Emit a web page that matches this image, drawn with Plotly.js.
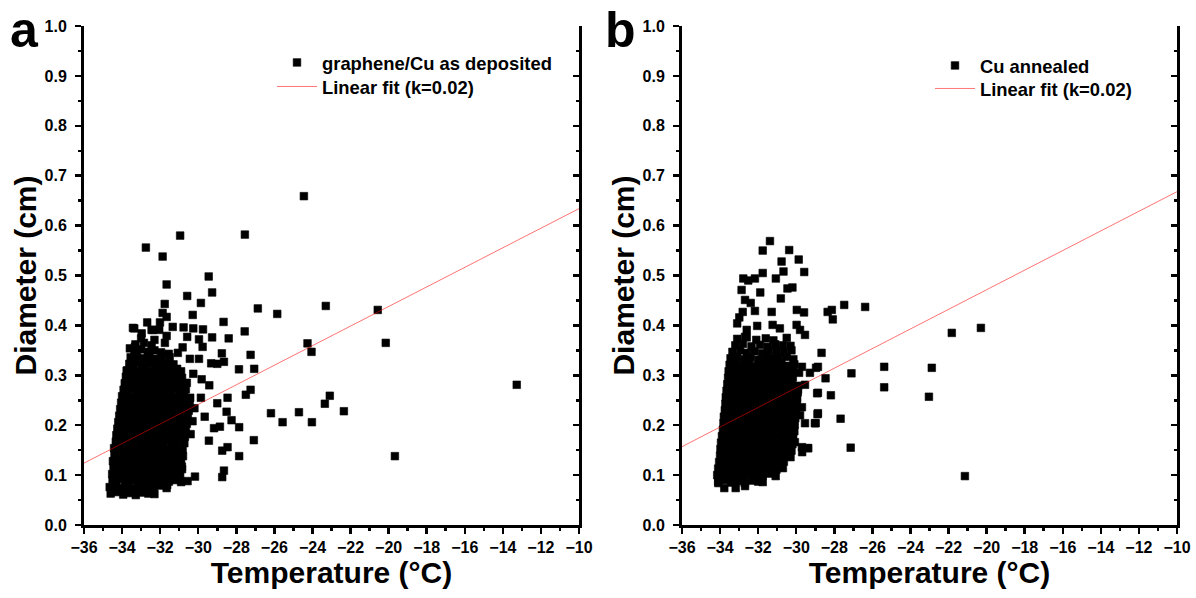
<!DOCTYPE html>
<html><head><meta charset="utf-8">
<script src="https://cdn.plot.ly/plotly-3.0.1.min.js"></script>
<style>html,body{margin:0;padding:0;background:#fff;}#chart{width:1196px;height:598px;}</style>
</head><body><div id="chart"></div>
<script>
// ---------- Panel a : graphene/Cu as deposited ----------
const tempA = [
 -30.95,-27.55,-32.75,-31.87,-29.45,-31.66,-29.27,-30.58,-29.86,-31.76,
 -26.87,-25.85,-31.87,-31.66,-30.29,-32.68,-32.01,-28.67,-31.34,-30.77,
 -30.26,-29.75,-33.36,-27.56,-31.66,-30.58,-29.27,-28.40,-24.26,-24.05,
 -33.59,-28.76,-27.25,-29.32,-29.00,-28.65,-33.76,-27.86,-27.06,-27.25,
 -27.50,-28.46,-29.00,-29.66,-28.51,-28.25,-26.18,-25.57,-29.17,-28.86,
 -27.85,-29.44,-27.08,-28.46,-28.74,-27.85,-28.65,-28.74,-30.17,-30.56,
 -31.63,-32.48,-24.45,-13.27,-19.67,-20.57,-20.15,-23.30,-23.09,-23.35,
 -22.35,-24.71,-24.03,-30.82,-29.96,-29.77,-31.55,-29.96,-30.44,-30.26,
 -29.82,-29.42,-29.86,-30.86,-31.31,-32.45,-32.05,-32.97,-30.61,
 -33.43,-33.32,-31.75,-31.07,-32.38,
 -34.60,-34.27,-33.94,-33.60,-33.28,-32.95,-32.62,-32.30,
 -34.65,-34.30,-33.98,-33.65,-33.32,-33.00,-32.66,-32.33,-32.00,-31.66,
 -34.50,-34.18,-33.85,-33.52,-33.20,-32.86,-32.53,-32.20,-31.87,-31.54,-31.20,-30.90,
 -34.52,-34.20,-33.87,-33.55,-33.22,-32.90,-32.56,-32.23,-31.90,-31.57,-31.25,-30.95,
 -34.45,-34.12,-33.80,-33.47,-33.14,-32.82,-32.50,-32.16,-31.83,-31.50,-31.18,-30.85,
 -34.48,-34.15,-33.82,-33.50,-33.17,-32.84,-32.52,-32.19,-31.86,-31.53,-31.21,-30.90,
 -34.40,-34.08,-33.75,-33.42,-33.10,-32.77,-32.44,-32.11,-31.79,-31.46,-31.13,-30.80,
 -34.42,-34.10,-33.77,-33.44,-33.12,-32.79,-32.46,-32.13,-31.80,-31.48,-31.15,-30.82,
 -34.33,-34.00,-33.68,-33.35,-33.02,-32.70,-32.37,-32.04,-31.71,-31.39,-31.06,-30.73,
 -34.30,-33.97,-33.65,-33.32,-32.99,-32.66,-32.34,-32.01,-31.68,-31.35,-31.03,-30.70,-30.40,
 -34.25,-33.92,-33.60,-33.27,-32.94,-32.61,-32.29,-31.96,-31.63,-31.30,-30.98,-30.65,
 -34.20,-33.87,-33.54,-33.22,-32.89,-32.56,-32.24,-31.91,-31.58,-31.25,-30.93,-30.60,-30.30,
 -34.15,-33.83,-33.50,-33.17,-32.84,-32.52,-32.19,-31.86,-31.53,-31.21,-30.88,-30.55,
 -34.10,-33.78,-33.45,-33.12,-32.80,-32.47,-32.14,-31.81,-31.49,-31.16,-30.83,-30.50,-30.20,
 -34.05,-33.72,-33.40,-33.07,-32.74,-32.42,-32.09,-31.76,-31.43,-31.11,-30.78,-30.45,
 -34.00,-33.68,-33.35,-33.02,-32.70,-32.37,-32.04,-31.71,-31.39,-31.06,-30.73,-30.42,
 -33.92,-33.60,-33.27,-32.94,-32.62,-32.29,-31.96,-31.63,-31.31,-30.98,-30.65,
 -33.86,-33.54,-33.21,-32.88,-32.56,-32.23,-31.90,-31.57,-31.25,-30.92,-30.60,
 -33.80,-33.47,-33.14,-32.82,-32.49,-32.16,-31.84,-31.51,-31.18,-30.85,
 -33.72,-33.40,-33.07,-32.74,-32.42,-32.09,-31.76,-31.44,-31.11,-30.90,
 -33.62,-33.30,-32.97,-32.64,-32.32,-31.99,-31.66,-31.30,
 -33.55,-33.22,-32.90,-32.57,-32.24,-31.90,-31.50,
 -33.35,-33.00,-32.65,-32.30,-31.95,
 -33.30,-32.85,-32.45,
 -33.00,-32.30
];
const diamA = [
 0.580,0.582,0.556,0.538,0.498,0.482,0.466,0.459,0.445,0.443,
 0.434,0.423,0.425,0.417,0.421,0.406,0.406,0.407,0.397,0.396,
 0.394,0.392,0.394,0.388,0.379,0.377,0.376,0.374,0.364,0.347,
 0.354,0.344,0.341,0.324,0.323,0.327,0.309,0.312,0.313,0.271,
 0.261,0.255,0.244,0.217,0.227,0.210,0.224,0.206,0.194,0.197,
 0.196,0.169,0.170,0.156,0.149,0.138,0.109,0.096,0.097,0.088,
 0.080,0.070,0.659,0.281,0.138,0.431,0.365,0.439,0.259,0.243,
 0.228,0.226,0.206,0.356,0.372,0.357,0.343,0.333,0.333,0.303,
 0.292,0.280,0.255,0.117,0.112,0.391,0.391,0.384,0.230,
 0.395,0.357,0.365,0.345,0.391,
 0.063,0.066,0.061,0.064,0.060,0.065,0.063,0.062,
 0.076,0.079,0.074,0.077,0.073,0.078,0.076,0.075,0.079,0.074,
 0.089,0.092,0.087,0.090,0.086,0.091,0.089,0.088,0.092,0.087,0.090,0.086,
 0.102,0.105,0.100,0.103,0.099,0.104,0.102,0.101,0.105,0.100,0.103,0.099,
 0.115,0.118,0.113,0.116,0.112,0.117,0.115,0.114,0.118,0.113,0.116,0.112,
 0.128,0.131,0.126,0.129,0.125,0.130,0.128,0.127,0.131,0.126,0.129,0.125,
 0.141,0.144,0.139,0.142,0.138,0.143,0.141,0.140,0.144,0.139,0.142,0.138,
 0.154,0.157,0.152,0.155,0.151,0.156,0.154,0.153,0.157,0.152,0.155,0.151,
 0.167,0.170,0.165,0.168,0.164,0.169,0.167,0.166,0.170,0.165,0.168,0.164,
 0.180,0.183,0.178,0.181,0.177,0.182,0.180,0.179,0.183,0.178,0.181,0.177,0.182,
 0.193,0.196,0.191,0.194,0.190,0.195,0.193,0.192,0.196,0.191,0.194,0.190,
 0.206,0.209,0.204,0.207,0.203,0.208,0.206,0.205,0.209,0.204,0.207,0.203,0.208,
 0.219,0.222,0.217,0.220,0.216,0.221,0.219,0.218,0.222,0.217,0.220,0.216,
 0.232,0.235,0.230,0.233,0.229,0.234,0.232,0.231,0.235,0.230,0.233,0.229,0.234,
 0.245,0.248,0.243,0.246,0.242,0.247,0.245,0.244,0.248,0.243,0.246,0.242,
 0.258,0.261,0.256,0.259,0.255,0.260,0.258,0.257,0.261,0.256,0.259,0.255,
 0.271,0.274,0.269,0.272,0.268,0.273,0.271,0.270,0.274,0.269,0.272,
 0.284,0.287,0.282,0.285,0.281,0.286,0.284,0.283,0.287,0.282,0.285,
 0.297,0.300,0.295,0.298,0.294,0.299,0.297,0.296,0.300,0.295,
 0.310,0.313,0.308,0.311,0.307,0.312,0.310,0.309,0.313,0.308,
 0.323,0.326,0.321,0.324,0.320,0.325,0.323,0.322,
 0.336,0.339,0.334,0.337,0.333,0.338,0.336,
 0.349,0.352,0.347,0.350,0.346,
 0.362,0.365,0.360,
 0.374,0.371
];

// ---------- Panel b : Cu annealed ----------
const tempB = [
 -31.38,-31.76,-30.37,-30.77,-29.87,-31.76,-30.67,-29.58,-32.78,-32.52,
 -32.17,-31.07,-32.87,-31.89,-30.46,-30.20,-30.81,-32.69,-32.39,-32.17,
 -31.29,-29.97,-29.59,-28.35,-28.13,-28.08,-27.48,-26.38,-32.81,-32.99,
 -33.10,-32.05,-31.24,-30.86,-29.98,-29.80,-29.54,-32.60,-32.69,-28.67,
 -27.10,-25.38,-25.38,-28.18,-27.67,-27.14,-28.46,-28.96,-28.90,-28.88,
 -28.98,-29.37,-29.69,-31.76,-32.34,-32.69,-33.18,-33.78,-34.09,-21.14,
 -21.83,-20.30,-23.03,-22.88,-29.70,-29.28,-28.86,-29.91,-29.54,-28.86,
 -29.70,-29.80,-28.86,-29.54,-29.02,-30.07,-29.70,-29.39,
 -34.10,-33.75,-33.40,-33.05,-32.70,-32.35,-32.00,
 -34.15,-33.80,-33.46,-33.12,-32.78,-32.44,-32.10,-31.76,-31.42,-31.08,
 -34.10,-33.76,-33.42,-33.08,-32.74,-32.40,-32.06,-31.72,-31.38,-31.04,-30.70,
 -34.05,-33.71,-33.37,-33.03,-32.69,-32.35,-32.01,-31.67,-31.33,-30.99,-30.65,
 -34.00,-33.66,-33.32,-32.98,-32.64,-32.30,-31.96,-31.62,-31.28,-30.94,-30.60,-30.30,
 -33.98,-33.64,-33.30,-32.96,-32.62,-32.28,-31.94,-31.60,-31.26,-30.92,-30.58,-30.25,
 -33.95,-33.61,-33.27,-32.93,-32.59,-32.25,-31.91,-31.57,-31.23,-30.89,-30.55,-30.20,
 -33.90,-33.56,-33.22,-32.88,-32.54,-32.20,-31.86,-31.52,-31.18,-30.84,-30.50,-30.16,
 -33.85,-33.51,-33.17,-32.83,-32.49,-32.15,-31.81,-31.47,-31.13,-30.79,-30.45,-30.10,
 -33.82,-33.48,-33.14,-32.80,-32.46,-32.12,-31.78,-31.44,-31.10,-30.76,-30.42,-30.08,
 -33.80,-33.46,-33.12,-32.78,-32.44,-32.10,-31.76,-31.42,-31.08,-30.74,-30.40,-30.05,
 -33.75,-33.41,-33.07,-32.73,-32.39,-32.05,-31.71,-31.37,-31.03,-30.69,-30.35,-30.00,
 -33.72,-33.38,-33.04,-32.70,-32.36,-32.02,-31.68,-31.34,-31.00,-30.66,-30.32,-29.98,
 -33.70,-33.36,-33.02,-32.68,-32.34,-32.00,-31.66,-31.32,-30.98,-30.64,-30.30,-29.95,
 -33.66,-33.32,-32.98,-32.64,-32.30,-31.96,-31.62,-31.28,-30.94,-30.60,-30.26,-29.92,
 -33.62,-33.28,-32.94,-32.60,-32.26,-31.92,-31.58,-31.24,-30.90,-30.56,-30.22,-29.90,
 -33.58,-33.24,-32.90,-32.56,-32.22,-31.88,-31.54,-31.20,-30.86,-30.52,-30.18,
 -33.55,-33.21,-32.87,-32.53,-32.19,-31.85,-31.51,-31.17,-30.83,-30.49,-30.15,-29.85,
 -33.50,-33.16,-32.82,-32.48,-32.14,-31.80,-31.46,-31.12,-30.78,-30.44,-30.10,
 -33.45,-33.10,-32.75,-32.40,-32.00,-31.60,-31.25,-30.90,-30.50,-30.15,
 -33.35,-32.95,-32.60,-32.20,-31.80,-31.45,-31.05,-30.65,-30.25,
 -33.20,-32.80,-32.35,-31.90,-31.50,-31.10,-30.70,-30.30,
 -33.10,-32.60,-32.10,-31.60,-31.20,-30.50
];
const diamB = [
 0.569,0.550,0.551,0.528,0.532,0.505,0.508,0.507,0.494,0.490,
 0.494,0.494,0.471,0.466,0.474,0.476,0.454,0.451,0.445,0.429,
 0.427,0.431,0.426,0.427,0.431,0.412,0.441,0.437,0.427,0.416,
 0.404,0.399,0.401,0.394,0.401,0.391,0.381,0.391,0.377,0.345,
 0.304,0.317,0.276,0.260,0.213,0.155,0.294,0.315,0.264,0.222,
 0.204,0.154,0.146,0.086,0.094,0.078,0.074,0.074,0.084,0.098,
 0.385,0.395,0.257,0.315,0.317,0.305,0.317,0.271,0.281,0.265,
 0.236,0.220,0.224,0.204,0.204,0.166,0.156,0.154,
 0.087,0.090,0.085,0.088,0.084,0.089,0.087,
 0.100,0.103,0.098,0.101,0.097,0.102,0.100,0.099,0.103,0.098,
 0.113,0.116,0.111,0.114,0.110,0.115,0.113,0.112,0.116,0.111,0.114,
 0.126,0.129,0.124,0.127,0.123,0.128,0.126,0.125,0.129,0.124,0.127,
 0.139,0.142,0.137,0.140,0.136,0.141,0.139,0.138,0.142,0.137,0.140,0.136,
 0.152,0.155,0.150,0.153,0.149,0.154,0.152,0.151,0.155,0.150,0.153,0.149,
 0.165,0.168,0.163,0.166,0.162,0.167,0.165,0.164,0.168,0.163,0.166,0.162,
 0.178,0.181,0.176,0.179,0.175,0.180,0.178,0.177,0.181,0.176,0.179,0.175,
 0.191,0.194,0.189,0.192,0.188,0.193,0.191,0.190,0.194,0.189,0.192,0.188,
 0.204,0.207,0.202,0.205,0.201,0.206,0.204,0.203,0.207,0.202,0.205,0.201,
 0.217,0.220,0.215,0.218,0.214,0.219,0.217,0.216,0.220,0.215,0.218,0.214,
 0.230,0.233,0.228,0.231,0.227,0.232,0.230,0.229,0.233,0.228,0.231,0.227,
 0.243,0.246,0.241,0.244,0.240,0.245,0.243,0.242,0.246,0.241,0.244,0.240,
 0.256,0.259,0.254,0.257,0.253,0.258,0.256,0.255,0.259,0.254,0.257,0.253,
 0.269,0.272,0.267,0.270,0.266,0.271,0.269,0.268,0.272,0.267,0.270,0.266,
 0.282,0.285,0.280,0.283,0.279,0.284,0.282,0.281,0.285,0.280,0.283,0.279,
 0.295,0.298,0.293,0.296,0.292,0.297,0.295,0.294,0.298,0.293,0.296,
 0.308,0.311,0.306,0.309,0.305,0.310,0.308,0.307,0.311,0.306,0.309,0.305,
 0.321,0.324,0.319,0.322,0.318,0.323,0.321,0.320,0.324,0.319,0.322,
 0.334,0.337,0.332,0.335,0.331,0.336,0.334,0.333,0.337,0.332,
 0.347,0.350,0.345,0.348,0.344,0.349,0.347,0.346,0.350,
 0.360,0.363,0.358,0.361,0.357,0.362,0.360,0.359,
 0.373,0.376,0.371,0.374,0.370,0.375
];

// ---------- Linear fits (k = 0.02) ----------
const fitTemp  = [-36, -10];
const fitDiamA = [0.124, 0.634];
const fitDiamB = [0.157, 0.668];

const seriesNames = ['graphene/Cu as deposited', 'Cu annealed'];
const fitName = 'Linear fit (k=0.02)';
const panelLabels = ['a', 'b'];
const xTitle = 'Temperature (°C)';
const yTitle = 'Diameter (cm)';

const FONT = 'Arial, "Liberation Sans", sans-serif';
const W = 1196, H = 598;
const markerStyle = {symbol: 'square', size: 7.6, color: '#000', line: {width: 0.6, color: '#000'}};
const fitLine = {color: 'rgba(255,0,0,0.55)', width: 1};

const traces = [
  {type: 'scatter', mode: 'markers', x: tempA, y: diamA, name: seriesNames[0],
   marker: markerStyle, xaxis: 'x', yaxis: 'y', legend: 'legend', hoverinfo: 'x+y'},
  {type: 'scatter', mode: 'lines', x: fitTemp, y: fitDiamA, name: fitName,
   line: fitLine, xaxis: 'x', yaxis: 'y', legend: 'legend3'},
  {type: 'scatter', mode: 'markers', x: tempB, y: diamB, name: seriesNames[1],
   marker: markerStyle, xaxis: 'x2', yaxis: 'y2', legend: 'legend2', hoverinfo: 'x+y'},
  {type: 'scatter', mode: 'lines', x: fitTemp, y: fitDiamB, name: fitName,
   line: fitLine, xaxis: 'x2', yaxis: 'y2', legend: 'legend4'},
  {type: 'scatter', mode: 'markers', x: [], y: [], xaxis: 'x', yaxis: 'y3', showlegend: false, hoverinfo: 'skip'},
  {type: 'scatter', mode: 'markers', x: [], y: [], xaxis: 'x2', yaxis: 'y4', showlegend: false, hoverinfo: 'skip'}
];

const tickFont = {family: FONT, size: 16, color: '#000', weight: 'bold'};
const titleFont = {family: FONT, size: 30, color: '#000', weight: 'bold'};

function xAxis(dom, anchor) {
  return {
    domain: dom, anchor: anchor, range: [-36, -10], tick0: -36, dtick: 2,
    ticks: 'outside', ticklen: 6, tickwidth: 2.5, tickcolor: '#000',
    minor: {dtick: 1, ticks: 'outside', ticklen: 3, tickwidth: 2.5, tickcolor: '#000'},
    showline: true, linewidth: 3, linecolor: '#000', showgrid: false, zeroline: false,
    tickfont: tickFont, title: {text: xTitle, font: titleFont, standoff: 3}
  };
}
function yAxis(dom, anchor) {
  return {
    domain: dom, anchor: anchor, range: [0, 1], tick0: 0, dtick: 0.1, tickformat: '.1f',
    ticks: 'outside', ticklen: 6, tickwidth: 2.5, tickcolor: '#000',
    minor: {dtick: 0.05, ticks: 'outside', ticklen: 3, tickwidth: 2.5, tickcolor: '#000'},
    showline: true, linewidth: 3, linecolor: '#000', showgrid: false, zeroline: false,
    ticklabelstandoff: 5,
    tickfont: tickFont, title: {text: yTitle, font: titleFont, standoff: 0}
  };
}
function yMirror(over, anchor) {
  return {
    overlaying: over, anchor: anchor, side: 'right', range: [0, 1], tick0: 0, dtick: 0.1,
    ticks: 'inside', ticklen: 6, tickwidth: 2.5, tickcolor: '#000',
    minor: {dtick: 0.05, ticks: 'inside', ticklen: 3, tickwidth: 2.5, tickcolor: '#000'},
    showticklabels: false, showline: true, linewidth: 3, linecolor: '#000',
    showgrid: false, zeroline: false
  };
}

const yDom = [(H - 525) / H, (H - 26) / H];
const legendFont = {family: FONT, size: 18.4, color: '#000', weight: 'bold'};
function legendAt(px, pyTop) {
  return {x: px / W, y: (H - pyTop) / H, xanchor: 'left', yanchor: 'top',
          bgcolor: 'rgba(0,0,0,0)', font: legendFont, itemwidth: 40};
}
const layout = {
  width: W, height: H, margin: {l: 0, r: 0, t: 0, b: 0},
  paper_bgcolor: '#fff', plot_bgcolor: '#fff',
  font: {family: FONT, color: '#000'},
  xaxis: xAxis([84 / W, 579 / W], 'y'),
  yaxis: yAxis(yDom, 'x'),
  xaxis2: xAxis([682 / W, 1177 / W], 'y2'),
  yaxis2: yAxis(yDom, 'x2'),
  yaxis3: yMirror('y', 'x'),
  yaxis4: yMirror('y2', 'x2'),
  legend: legendAt(272, 44),
  legend3: legendAt(272, 68),
  legend2: legendAt(930, 47),
  legend4: legendAt(930, 70),
  showlegend: true,
  annotations: [
    {text: panelLabels[0], xref: 'paper', yref: 'paper', x: 8 / W, y: (H - 30) / H,
     xanchor: 'left', yanchor: 'middle', showarrow: false,
     font: {family: FONT, size: 50, color: '#000', weight: 'bold'}},
    {text: panelLabels[1], xref: 'paper', yref: 'paper', x: 603 / W, y: (H - 30) / H,
     xanchor: 'left', yanchor: 'middle', showarrow: false,
     font: {family: FONT, size: 50, color: '#000', weight: 'bold'}}
  ]
};

Plotly.newPlot('chart', traces, layout, {displayModeBar: false, staticPlot: true});
</script></body></html>
